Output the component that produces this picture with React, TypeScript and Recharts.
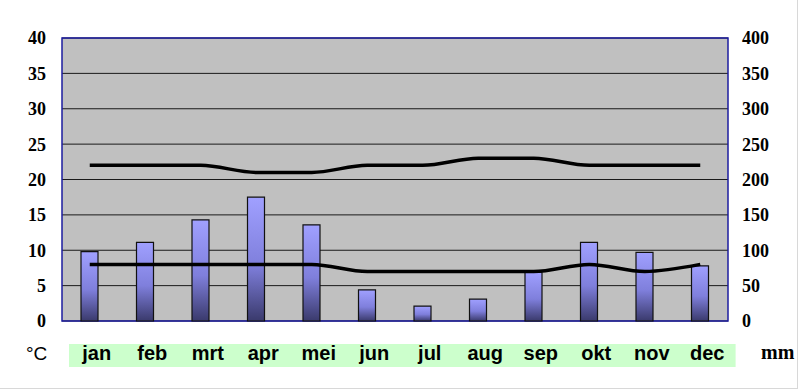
import React from 'react';
import { ComposedChart, Bar, Line, XAxis, YAxis, CartesianGrid, ReferenceArea } from 'recharts';

const months = ['jan', 'feb', 'mrt', 'apr', 'mei', 'jun', 'jul', 'aug', 'sep', 'okt', 'nov', 'dec'];
const rainMm = [98, 111, 143, 175, 136, 44, 21, 31, 69, 111, 97, 78];
const tempMax = [22, 22, 22, 21, 21, 22, 22, 23, 23, 22, 22, 22];
const tempMin = [8, 8, 8, 8, 8, 7, 7, 7, 7, 8, 7, 8];
const tempTicks = [0, 5, 10, 15, 20, 25, 30, 35, 40];
const mmTicks = [0, 50, 100, 150, 200, 250, 300, 350, 400];

const data = months.map((m, i) => ({ month: m, mm: rainMm[i], max: tempMax[i], min: tempMin[i] }));

const PLOT_LEFT = 62;
const PLOT_RIGHT = 728;
const BAND = (PLOT_RIGHT - PLOT_LEFT) / months.length;
const SHIFT = 7;

const MonthTick = (props: any) => {
  const { x, payload } = props;
  return (
    <g>
      <rect x={x - BAND / 2 + SHIFT} y={344} width={BAND + 0.6} height={23} fill="#ccffcc" />
      <text
        x={x + SHIFT}
        y={360}
        textAnchor="middle"
        fontFamily="'Liberation Sans', Arial, sans-serif"
        fontWeight="bold"
        fontSize={20}
        fill="#000"
      >
        {payload.value}
      </text>
    </g>
  );
};

const serifTick = {
  fontFamily: "'Liberation Serif', 'Times New Roman', serif",
  fontWeight: 'bold',
  fontSize: 18,
  fill: '#000',
};

export default function App() {
  return (
    <div style={{ position: 'absolute', left: 0, top: 0, width: 800, height: 391, background: '#fff' }}>
      <ComposedChart width={800} height={391} data={data} margin={{ top: 38, right: 0, bottom: 0, left: 0 }}>
        <defs>
          <linearGradient id="barFill" x1="0" y1="0" x2="0" y2="1">
            <stop offset="0%" stopColor="#a0a0ff" />
            <stop offset="55%" stopColor="#7f7fdc" />
            <stop offset="100%" stopColor="#3a3a6c" />
          </linearGradient>
        </defs>
        <CartesianGrid yAxisId="temp" vertical={false} stroke="#1a1a1a" fill="#c0c0c0" fillOpacity={1} />
        <XAxis dataKey="month" axisLine={false} tickLine={false} height={70} tick={<MonthTick />} interval={0} />
        <YAxis
          yAxisId="temp"
          orientation="left"
          width={62}
          domain={[0, 40]}
          ticks={tempTicks}
          axisLine={false}
          tickLine={false}
          tickSize={0}
          tickMargin={16}
          tick={serifTick}
          interval={0}
        />
        <YAxis
          yAxisId="mm"
          orientation="right"
          width={72}
          domain={[0, 400]}
          ticks={mmTicks}
          axisLine={false}
          tickLine={false}
          tickSize={0}
          tickMargin={14}
          tick={{ ...serifTick, textAnchor: 'start' }}
          interval={0}
        />
        <Bar yAxisId="mm" dataKey="mm" barSize={17} fill="url(#barFill)" stroke="#111" strokeWidth={1.2} isAnimationActive={false} />
        <Line yAxisId="temp" type="monotone" dataKey="max" stroke="#000" strokeWidth={3.5} dot={false} isAnimationActive={false} />
        <Line yAxisId="temp" type="monotone" dataKey="min" stroke="#000" strokeWidth={3.5} dot={false} isAnimationActive={false} />
        <ReferenceArea yAxisId="temp" y1={0} y2={40} fill="none" fillOpacity={0} stroke="#1c1ca0" strokeWidth={1.5} ifOverflow="visible" />
        <text x={26} y={360} fontFamily="'Liberation Sans', Arial, sans-serif" fontSize={19} fill="#000">°C</text>
        <text x={761} y={359} fontFamily="'Liberation Serif', 'Times New Roman', serif" fontWeight="bold" fontSize={20} fill="#000">mm</text>
      </ComposedChart>
      <div style={{ position: 'absolute', right: 2, top: 0, width: 1, height: 389, background: '#d8d8d8' }} />
      <div style={{ position: 'absolute', left: 0, top: 388, width: 798, height: 1, background: '#d8d8d8' }} />
    </div>
  );
}
